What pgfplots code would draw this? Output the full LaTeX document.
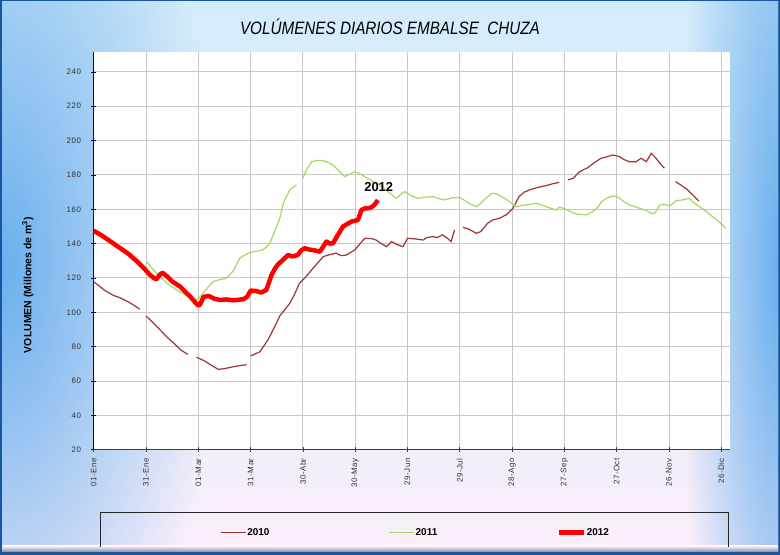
\documentclass[border=0pt]{standalone}
\usepackage{pgfplots}
\pgfplotsset{compat=1.18}
\usepackage{fontspec}
\setmainfont{Liberation Sans}
\newfontfamily\tickfont[LetterSpace=6]{Liberation Sans}
\usetikzlibrary{fadings}
\definecolor{framedark}{RGB}{25,85,160}
\definecolor{bgtop}{RGB}{212,236,250}
\definecolor{bgmid}{RGB}{236,243,252}
\definecolor{bgbot}{RGB}{250,238,250}
\definecolor{glow}{RGB}{105,175,238}
\definecolor{shadowc}{RGB}{140,140,150}
\definecolor{c2010}{RGB}{165,50,50}
\definecolor{c2011}{RGB}{165,215,100}
\definecolor{c2012}{RGB}{255,0,0}
\definecolor{gridc}{RGB}{200,200,200}
\definecolor{navy}{RGB}{0,0,130}
\tikzfading[name=glowfade, inner color=transparent!0, outer color=transparent!100]

\begin{document}
\begin{tikzpicture}[x=1bp,y=1bp]
\useasboundingbox (0,0) rectangle (780,555);
\fill[framedark] (0,0) rectangle (780,555);
\shade[top color=bgtop, middle color=bgmid, bottom color=bgbot] (2,3) rectangle (778,553);
\begin{scope}
\clip (2,3) rectangle (778,553);
\fill[glow, path fading=glowfade] (-220,-210) rectangle (220,790);
\fill[glow, path fading=glowfade] (680,-350) rectangle (880,930);
\shade[top color=bgbot, bottom color=shadowc] (2,3) rectangle (778,9);
\end{scope}
\node[font=\itshape\fontsize{18}{20}\selectfont] at (390,528) {\scalebox{0.85}[1]{VOLÚMENES DIARIOS EMBALSE\ \ CHUZA}};

\begin{axis}[
  at={(93.7bp,105.3bp)}, anchor=south west,
  scale only axis, width=636.3bp, height=397.7bp,
  xmin=0, xmax=365, ymin=20, ymax=251.6,
  axis lines*=left,
  x axis line style={black!75, line width=1bp},
  y axis line style={navy, line width=1.2bp},
  axis background/.style={fill=white},
  xtick={0,30,...,360},
  xticklabels={01-Ene,31-Ene,01-Mar,31-Mar,30-Abr,30-May,29-Jun,29-Jul,28-Ago,27-Sep,27-Oct,26-Nov,26-Dic},
  ytick={20,40,...,240},
  grid=major, major grid style={gridc, line width=1bp},
  tick align=center, major tick length=5bp,
  xtick style={black!75, line width=0.8bp},
  ytick style={navy, line width=0.8bp},
  tick label style={font=\tickfont\fontsize{8}{9}\selectfont, text=black!80},
  xticklabel style={rotate=90, anchor=east, inner sep=0pt},
  yticklabel style={anchor=east, inner sep=0pt},
  xticklabel shift=6bp, yticklabel shift=10bp,
  /pgf/number format/assume math mode=true,
  ylabel={VOLUMEN (Millones de m\textsuperscript{3})},
  ylabel style={at={(axis description cs:-0.1033,0.414)}, anchor=center, font=\bfseries\fontsize{10.5}{12}\selectfont},
  unbounded coords=jump,
  legend columns=3,
  legend style={at={(0.505,-0.2085)}, anchor=center, draw=none, fill=none,
    font=\bfseries\fontsize{10}{12}\selectfont, inner sep=0pt,
    nodes={inner sep=1bp},
    /tikz/every even column/.append style={column sep=118bp}},
  legend image code/.code={\draw[#1] (0bp,0bp) -- (25bp,0bp);},
]
\addplot[c2010, line width=1.2bp] coordinates {
(0,117.8) (3,115.5) (6,113) (11,110) (15,108.5) (20,106) (24,103.5) (26.5,101.8)
(28,nan)
(30,97.9) (35,93) (41.8,85.8) (46,82) (50,78) (54,75.5)
(56,nan)
(59,73.8) (63,72) (67,69.5) (71.4,66.8) (75,67.2) (80,68.3) (84,69) (87.7,69.5)
(89,nan)
(90,74.6) (95.3,77) (100,84) (104,92) (106.8,98) (110,102) (112.5,105.3) (115,110) (118,116.9) (122,121) (125.8,125.6) (128.7,129) (131.6,132.4) (135,133.5) (139,134.4) (142,133) (145,133.4) (149.7,136.3) (152,139) (155.5,143.1) (159,143) (162,142.1) (165,140) (168,138.2) (170.8,141.2) (174,139.5) (177.4,138.2) (180,143.1) (184,142.8) (189,142.1) (191,143.5) (194.6,144.1) (197,143.5) (200,145.1) (203,143) (205,141.2) (207,148)
(209,nan)
(211.8,149.5) (215,148.5) (219.5,146) (222,147) (226,151.9) (229,153.8) (232.8,154.8) (237,157) (240.5,160.6) (244,167.4) (247,170) (250,171.3) (255,172.8) (259.6,173.8) (263,174.8) (267,175.7)
(269,nan)
(272,177.1) (275,178) (278.7,181.9) (283,184) (287,187) (291,189.7) (294,190.5) (297.8,191.6) (301.6,190.7) (304,189) (307.3,187.7) (311,187.7) (314,189.7) (317,187.7) (319.8,192.6) (322.6,189.7) (325,186.5) (327.4,183.9)
(330,nan)
(333.7,176.1) (337,174) (340.7,171.3) (344,168) (347,164.9)
};
\addplot[c2011, line width=1.2bp] coordinates {
(30.4,129.5) (34,125) (38,120.8) (42,117) (47.6,113) (52,110.5) (56,108.5) (59,107.2) (62,110) (65,114) (68.5,117.8) (72,119) (76,119.8) (80,124) (83.8,131.5) (86,133) (89.6,134.8) (93,135.5) (97,136.3) (99,138) (101,140.2) (103,145) (104.9,149.9) (106.8,154.8) (108.7,163.5) (110.6,167.4) (112.5,171.3) (116.3,174.2)
(118,nan)
(120,178.1) (122,183) (125,187.7) (128,188.5) (131.6,188.3) (134,187.5) (137.3,185.8) (140,183) (144,179) (147,180.5) (149.7,181.9) (152,181) (155.5,179) (159,177) (164,174.2) (168,171) (171,168.5) (173.6,166.4) (176,168.5) (178.4,170.3) (182,168) (186,166.4) (190,167) (194.6,167.4) (198,166.2) (201.3,165.4) (205,166.5) (209.9,167) (213,165) (216,163) (219.5,161.5) (222,163.5) (225,166.5) (228,169) (230,169.3) (233,168) (237,165.5) (242.4,161.5) (247,162.5) (250,162.8) (253.9,163.5) (257,162.5) (261,161) (265.3,159.6) (267,161.2) (270,160.5) (273,158.8) (276.8,157.3) (282.5,156.7) (286.3,158.6) (289,161) (291,164) (294,166.4) (297.8,167.8) (301,167) (304,164.5) (307.5,162.5) (312,161) (317,159.2) (320.7,157.3) (322,158) (324.7,162.5) (327,163) (330.4,161.9) (334,165) (338,165.5) (341.7,166.4) (344,164) (347.6,161.5) (351,159) (355,155.7) (359,152.5) (362.7,148.9)
};
\addplot[c2012, line width=4.5bp, line join=round] coordinates {
(0,147.5) (5,144.5) (10,141) (15,137.5) (20,134) (25,129.5) (29.4,125) (32,122) (34.5,120) (36,119.2) (38,122) (39.5,123) (42,121) (45,118) (49.5,115) (53,111.5) (56,108.5) (58,106) (60,104) (61,104.5) (63,109) (66,109.5) (69,108) (72.4,107.2) (76,107.5) (80,107) (85.7,107.6) (88,109) (90,112.6) (93,112.5) (96,111.5) (99,113) (102,121.7) (104,125.5) (105.8,128) (108,130) (111.5,133.4) (114,132.5) (117,133.4) (119,136) (121,137.3) (124,136.5) (127,136) (129.7,135.3) (131.5,138) (133.5,141.2) (135.5,140) (137.3,140.2) (140,145) (143,150) (145.5,151.5) (147.8,152.8) (151.6,153.8) (153.6,159.6) (155.5,160.5) (157.4,160.6) (159,161) (161,162.5) (163,165.4)
};
\legend{2010,2011,2012}
\node[font=\bfseries\fontsize{13}{15}\selectfont] at (axis cs:163.5,172.7) {2012};
\end{axis}
\draw[black!85, line width=0.8bp] (100,8) |- (728,43) -- (728,8);
\end{tikzpicture}
\end{document}
